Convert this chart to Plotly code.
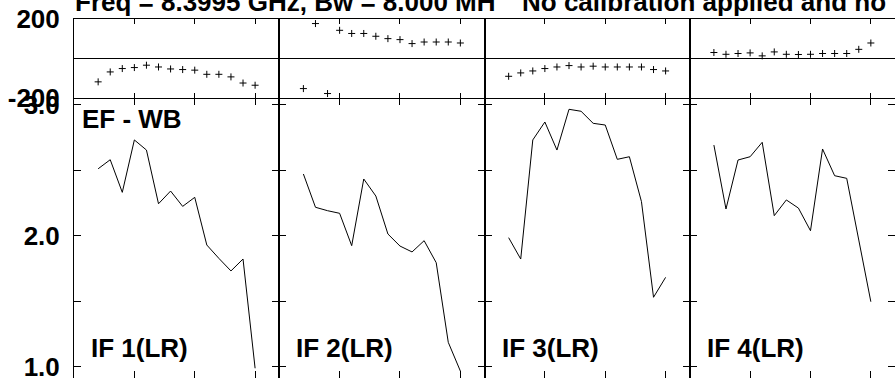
import plotly.graph_objects as go

# ---------------- data ----------------
channels = [2, 3, 4, 5, 6, 7, 8, 9, 10, 11, 12, 13, 14, 15]
if_labels = ["IF 1(LR)", "IF 2(LR)", "IF 3(LR)", "IF 4(LR)"]

phase_if1 = [-117, -67, -50, -45, -33, -42, -52, -55, -58, -79, -79, -92, -123, -134]
phase_if2 = [-151, 177, -176, 143, 127, 127, 113, 101, 96, 76, 84, 84, 84, 79]
phase_if3 = [-89, -72, -62, -50, -42, -35, -42, -38, -42, -42, -42, -42, -55, -62]
phase_if4 = [31, 22, 26, 29, 14, 34, 22, 21, 22, 26, 26, 26, 47, 79]

amp_if1 = [2.511, 2.580, 2.331, 2.731, 2.654, 2.244, 2.341, 2.224, 2.293, 1.929, 1.827, 1.731, 1.822, 0.988]
amp_if2 = [2.471, 2.217, 2.191, 2.171, 1.924, 2.433, 2.303, 2.013, 1.921, 1.876, 1.962, 1.794, 1.186, 0.967]
amp_if3 = [1.985, 1.822, 2.731, 2.868, 2.654, 2.965, 2.950, 2.858, 2.845, 2.583, 2.603, 2.260, 1.530, 1.682]
amp_if4 = [2.692, 2.204, 2.578, 2.603, 2.713, 2.153, 2.273, 2.211, 2.038, 2.662, 2.458, 2.438, 1.967, 1.496]

phases = [phase_if1, phase_if2, phase_if3, phase_if4]
amps = [amp_if1, amp_if2, amp_if3, amp_if4]

title_left = "Freq = 8.3995 GHz, Bw = 8.000 MH"
title_right = "No calibration applied and no"
baseline_label = "EF - WB"

phase_ticks = [-200, 200]
phase_ticktext = ["-200", "200"]
amp_ticks = [1.0, 1.5, 2.0, 2.5, 3.0]
amp_ticktext = ["1.0", "", "2.0", "", "3.0"]
chan_ticks = [5, 10, 15]
chan_range = [0, 17]
phase_range = [-200, 200]
amp_range = [0.9137, 3.049]

# ---------------- layout helpers ----------------
W, H = 895, 378
FONT = "Liberation Sans, Arial, Helvetica, sans-serif"
FS = 26
LEFT = 74.0
PW = (W - LEFT) / 4.0
PH_TOP, PH_BOT = 19.0, 98.3


def px(x):
    return x / W


def py(y):
    return 1 - y / H


fig = go.Figure()
layout = dict(
    width=W, height=H, autosize=False,
    margin=dict(l=0, r=0, t=0, b=0, pad=0, autoexpand=False),
    paper_bgcolor="white", plot_bgcolor="white",
    showlegend=False,
    font=dict(family=FONT, size=FS, color="black"),
)
annotations = []

for i in range(4):
    x0 = LEFT + i * PW
    x1 = min(x0 + PW, W)
    xdom = [px(x0), px(x1)]
    kp = i + 1
    ka = i + 5
    sp = "" if kp == 1 else str(kp)
    sa = str(ka)

    layout["xaxis" + sp] = dict(
        domain=xdom, range=chan_range, anchor="y" + sp, automargin=False,
        showline=True, mirror="ticks", linecolor="black", linewidth=1,
        ticks="inside", ticklen=5, tickcolor="black", tickwidth=1,
        tickvals=chan_ticks, showticklabels=False,
        showgrid=False, zeroline=False, fixedrange=True,
    )
    layout["yaxis" + sp] = dict(
        domain=[py(PH_BOT), py(PH_TOP)], range=phase_range, anchor="x" + sp,
        automargin=False, ticklabeloverflow="allow",
        showline=True, mirror=True, linecolor="black", linewidth=1,
        ticks="", tickvals=phase_ticks, ticktext=phase_ticktext,
        showticklabels=(i == 0), ticklabelstandoff=8,
        tickfont=dict(family=FONT, size=FS, color="black", weight="bold"),
        showgrid=False, zeroline=True, zerolinecolor="black", zerolinewidth=1,
        fixedrange=True,
    )
    layout["xaxis" + sa] = dict(
        domain=xdom, range=chan_range, anchor="y" + sa, automargin=False,
        showline=False, mirror="ticks", linecolor="black",
        ticks="inside", ticklen=7, tickcolor="black", tickwidth=1,
        tickvals=chan_ticks, showticklabels=False,
        showgrid=False, zeroline=False, fixedrange=True,
    )
    layout["yaxis" + sa] = dict(
        domain=[0, py(PH_BOT)], range=amp_range, anchor="x" + sa,
        automargin=False, ticklabeloverflow="allow",
        showline=True, mirror="ticks", linecolor="black", linewidth=1,
        ticks="inside", ticklen=7, tickcolor="black", tickwidth=1,
        tickvals=amp_ticks, ticktext=amp_ticktext,
        showticklabels=(i == 0), ticklabelstandoff=8,
        tickfont=dict(family=FONT, size=FS, color="black", weight="bold"),
        showgrid=False, zeroline=False, fixedrange=True,
    )

    fig.add_trace(go.Scatter(
        x=channels, y=phases[i], mode="markers",
        marker=dict(symbol="cross-thin", size=5, color="black",
                    line=dict(color="black", width=1)),
        xaxis="x" + sp, yaxis="y" + sp, hoverinfo="skip",
    ))
    fig.add_trace(go.Scatter(
        x=channels, y=amps[i], mode="lines",
        line=dict(color="black", width=1),
        xaxis="x" + sa, yaxis="y" + sa, hoverinfo="skip",
    ))

    annotations.append(dict(
        text=if_labels[i], xref="paper", yref="paper",
        x=px(x0 + 15), y=py(347.5), xanchor="left", yanchor="middle",
        showarrow=False, font=dict(family=FONT, size=FS, color="black", weight="bold"),
    ))

annotations.append(dict(
    text=baseline_label, xref="paper", yref="paper",
    x=px(80), y=py(118.5), xanchor="left", yanchor="middle",
    showarrow=False, font=dict(family=FONT, size=FS, color="black", weight="bold"),
))
annotations.append(dict(
    text=title_left, xref="paper", yref="paper",
    x=px(73), y=py(2.0), xanchor="left", yanchor="middle",
    showarrow=False, font=dict(family=FONT, size=FS, color="black", weight="bold"),
))
annotations.append(dict(
    text=title_right, xref="paper", yref="paper",
    x=px(520), y=py(2.0), xanchor="left", yanchor="middle",
    showarrow=False, font=dict(family=FONT, size=FS, color="black", weight="bold"),
))

layout["annotations"] = annotations
fig.update_layout(**layout)
fig.write_html(
    "out.html",
    config={"displayModeBar": False},
    post_script="document.body.style.margin='0';document.body.style.overflow='hidden';",
)
